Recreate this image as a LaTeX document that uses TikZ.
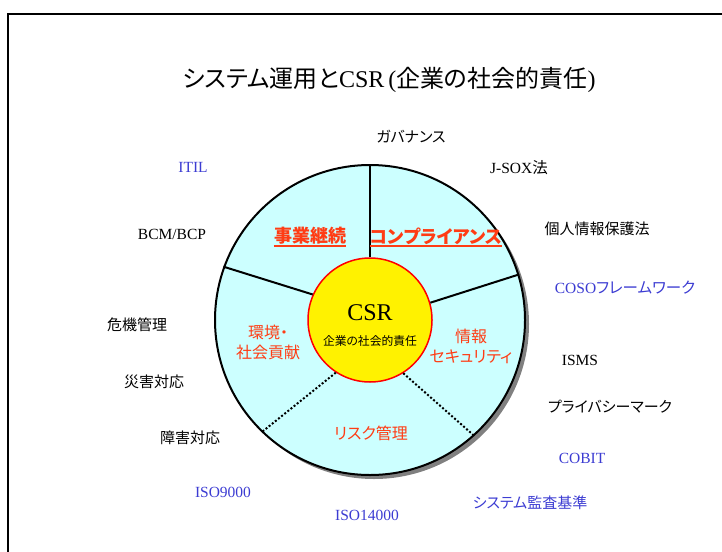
\documentclass[tikz,border=0pt]{standalone}
\usepackage{fontspec}
\setmainfont{Liberation Serif}
\newfontfamily\jp[RawFeature=+palt]{Noto Sans CJK JP}
\definecolor{blu}{RGB}{60,60,210}
\definecolor{rd}{RGB}{255,60,20}
\definecolor{cy}{RGB}{204,255,255}
\definecolor{shad}{RGB}{128,128,128}
\begin{document}
\begin{tikzpicture}[x=1pt,y=-1pt,
  jl/.style={inner sep=0pt, font=\jp\fontsize{15}{17}\selectfont},
  ll/.style={inner sep=0pt, font=\fontsize{15.5}{17}\selectfont},
  inl/.style={inner sep=0pt, text=rd, align=center, font=\jp\fontsize{16}{20}\selectfont},
  big/.style={inner sep=0pt, text=rd, font=\jp\bfseries\fontsize{18}{20}\selectfont},
  divline/.style={line width=2pt},
  dotline/.style={line width=2pt, dash pattern=on 2pt off 2pt}]
\useasboundingbox (0,0) rectangle (722,551);
\draw[line width=2.5pt] (8,560) -- (8,14) -- (730,14);
% title
\node[inner sep=0pt, font=\fontsize{24}{26}\selectfont] (title) at (389,80)
  {{\jp システム運用と}CSR\,({\jp 企業の社会的責任})};
% shadow and disc
\fill[shad] (374,324) circle (155);
\node[circle, draw, line width=2pt, fill=cy, minimum size=310pt, inner sep=0pt] (ring) at (370,320) {};
\node[circle, draw=red, line width=1.5pt, fill=yellow, minimum size=124pt, inner sep=0pt] (csr) at (370,320) {};
\node[inner sep=0pt, font=\fontsize{24}{26}\selectfont] (csrt) at (370,313) {CSR};
\node[inner sep=0pt, font=\jp\fontsize{11.8}{13}\selectfont] (csrs) at (370,341) {企業の社会的責任};
% dividers
\draw[divline] (csr.90) -- (ring.90);
\draw[divline] (csr.156) -- (ring.160);
\draw[divline] (csr.16) -- (ring.17);
\draw[dotline] (csr.237) -- (ring.226);
\draw[dotline] (csr.302) -- (ring.312);
% inner labels
\node[big] (jigyo) at (310,236) {事業継続};
\node[big] (comp) at (436,236) {コンプライアンス};
\draw[rd, line width=1.6pt] ([yshift=-3pt]jigyo.base west) -- ([yshift=-3pt]jigyo.base east);
\draw[rd, line width=1.6pt] ([yshift=-3pt]comp.base west) -- ([yshift=-3pt]comp.base east);
\node[inl] (kankyo) at (268,342) {環境・\\社会貢献};
\node[inl] (joho) at (471,346) {情報\\セキュリティ};
\node[inl] (risk) at (371,433) {リスク管理};
% outer labels
\node[jl] (gov) at (411,137) {ガバナンス};
\node[ll] (jsox) at (519,168) {J-SOX{\jp 法}};
\node[jl] (kojin) at (597,229) {個人情報保護法};
\node[ll, text=blu] (coso) at (625,288) {COSO{\jp フレームワーク}};
\node[ll] (isms) at (580,360) {ISMS};
\node[jl] (pmark) at (610,407) {プライバシーマーク};
\node[ll, text=blu] (cobit) at (582,458) {COBIT};
\node[jl, text=blu] (kansa) at (530,503) {システム監査基準};
\node[ll, text=blu] (iso14) at (367,515) {ISO14000};
\node[ll, text=blu] (iso9) at (223,492) {ISO9000};
\node[jl] (shogai) at (190,438) {障害対応};
\node[jl] (saigai) at (154,382) {災害対応};
\node[jl] (kiki) at (137,325) {危機管理};
\node[ll] (bcm) at (172,234) {BCM/BCP};
\node[ll, text=blu] (itil) at (193,167) {ITIL};
\end{tikzpicture}
\end{document}
